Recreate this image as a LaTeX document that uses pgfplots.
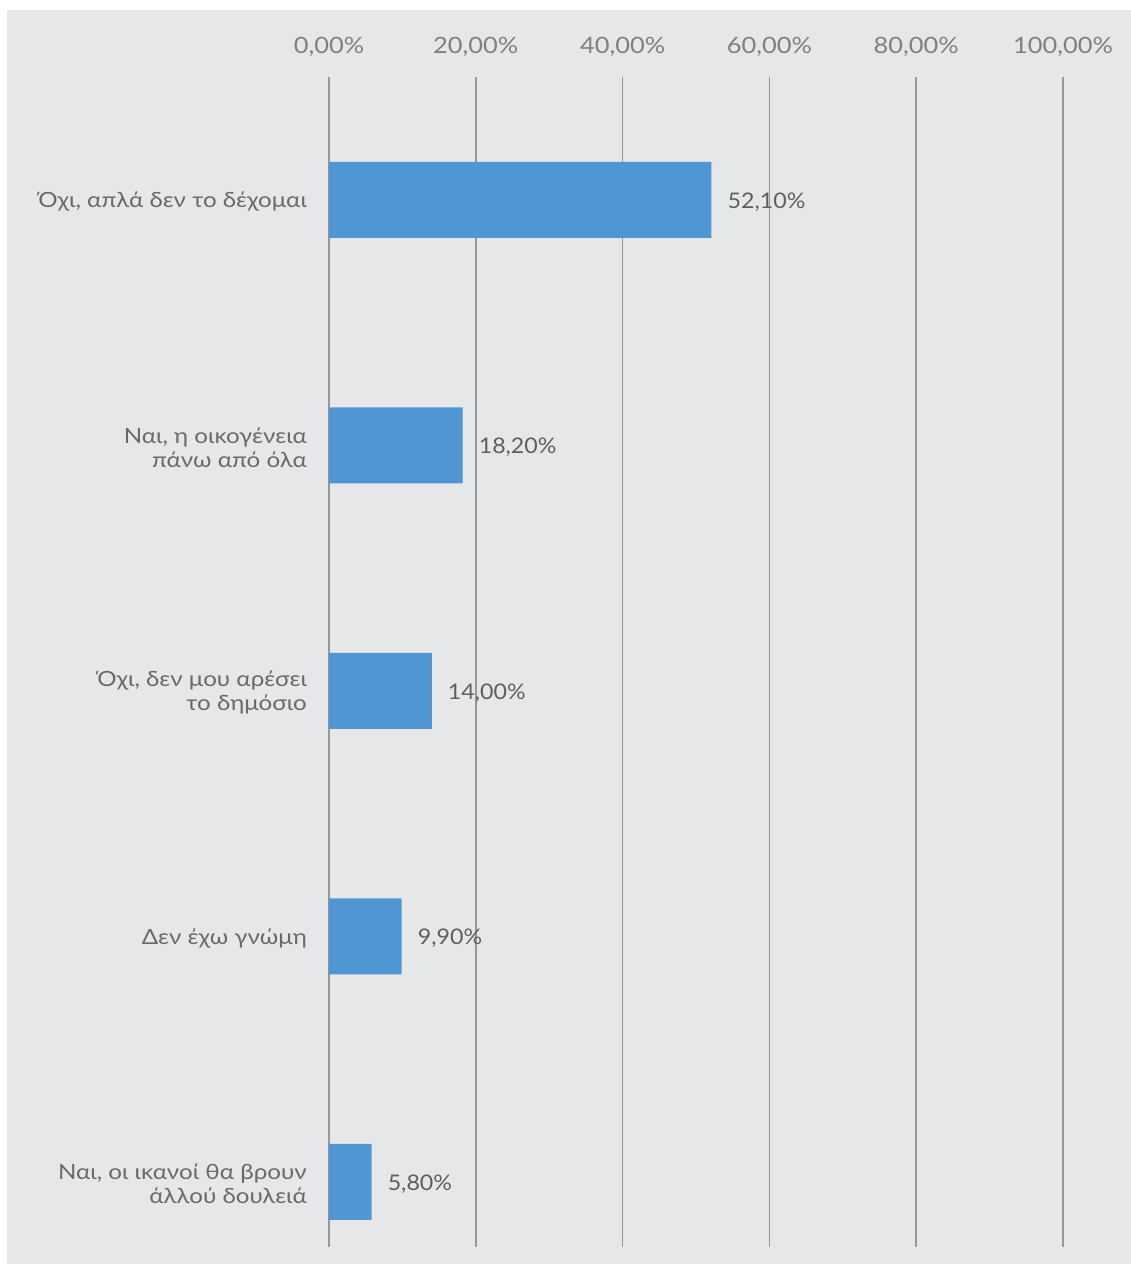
\documentclass[border=0pt]{standalone}
\usepackage{pgfplots}
\pgfplotsset{compat=1.18}
\usepackage{fontspec}
\setmainfont[FakeStretch=1.15]{Lato}
\newfontfamily\numfont[FakeStretch=1.13]{Lato}
\newfontfamily\valfont[FakeStretch=1.08]{Lato}
\definecolor{bgc}{RGB}{230,231,233}
\definecolor{barc}{RGB}{80,150,210}
\definecolor{txt}{RGB}{105,106,108}
\definecolor{ticktxt}{RGB}{128,128,130}
\definecolor{valtxt}{RGB}{95,95,97}
\definecolor{gridc}{RGB}{150,151,153}
\begin{document}
\begin{tikzpicture}
\fill[white] (-329bp,-19bp) rectangle (802bp,1247bp);
\fill[bgc] (-322bp,-17bp) rectangle (802bp,1237bp);
\begin{axis}[
  at={(0,0)}, anchor=south west,
  scale only axis, width=734bp, height=1170bp,
  xmin=0, xmax=100, ymin=-0.5, ymax=4.265,
  y dir=reverse,
  xbar, bar width=76bp,
  axis line style={draw=none},
  xtick={0,20,40,60,80,100},
  xticklabel pos=top,
  major tick length=0pt,
  xmajorgrids, major grid style={draw=gridc, line width=1.7bp},
  ytick={0,1,2,3,4},
  yticklabels={{Όχι, απλά δεν το δέχομαι},{Ναι, η οικογένεια\\πάνω από όλα},{Όχι, δεν μου αρέσει\\το δημόσιο},{Δεν έχω γνώμη},{Ναι, οι ικανοί θα βρουν\\άλλού δουλειά}},
  /pgf/number format/assume math mode=true,
  xticklabel={\pgfmathprintnumber[fixed,zerofill,precision=2,use comma]{\tick}\%},
  xticklabel style={font=\numfont\fontsize{22.5bp}{26bp}\selectfont, text=ticktxt, anchor=base, inner sep=0pt, yshift=24bp},
  yticklabel style={font=\fontsize{21bp}{24bp}\selectfont, text=txt, anchor=east, align=right, inner sep=0pt, xshift=-22bp, yshift=-2bp},
  nodes near coords={\pgfmathprintnumber[fixed,zerofill,precision=2,use comma]{\pgfplotspointmeta}\%},
  nodes near coords style={anchor=west, inner sep=0pt, xshift=16bp, yshift=-2bp, font=\valfont\fontsize{21.5bp}{26bp}\selectfont, text=valtxt},
]
\addplot[fill=barc, draw=none] coordinates {(52.1,0) (18.2,1) (14.0,2) (9.9,3) (5.8,4)};
\end{axis}
\pgfresetboundingbox
\path[use as bounding box] (-329bp,-19bp) rectangle (802bp,1247bp);
\end{tikzpicture}
\end{document}
